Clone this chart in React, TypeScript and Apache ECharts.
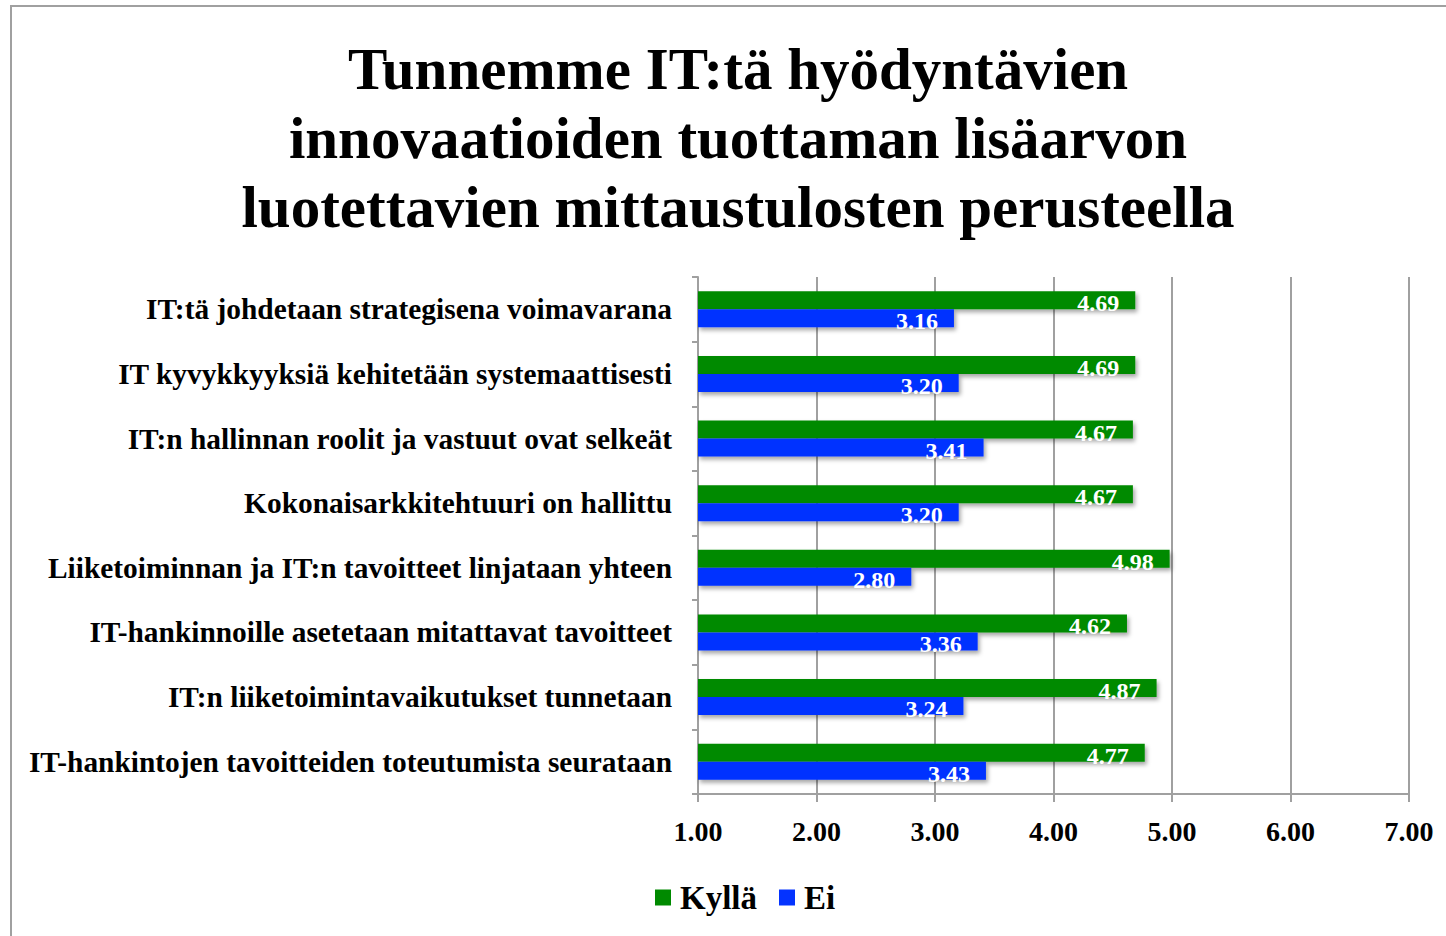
import React, { useEffect, useRef } from "react";
import * as echarts from "echarts";

const categories = [
  "IT:tä johdetaan strategisena voimavarana",
  "IT kyvykkyyksiä kehitetään systemaattisesti",
  "IT:n hallinnan roolit ja vastuut ovat selkeät",
  "Kokonaisarkkitehtuuri on hallittu",
  "Liiketoiminnan ja IT:n tavoitteet linjataan yhteen",
  "IT-hankinnoille asetetaan mitattavat tavoitteet",
  "IT:n liiketoimintavaikutukset tunnetaan",
  "IT-hankintojen tavoitteiden toteutumista seurataan",
];
const kylla = [4.69, 4.69, 4.67, 4.67, 4.98, 4.62, 4.87, 4.77];
const ei = [3.16, 3.2, 3.41, 3.2, 2.8, 3.36, 3.24, 3.43];
const titleLines = [
  "Tunnemme IT:tä hyödyntävien",
  "innovaatioiden tuottaman lisäarvon",
  "luotettavien mittaustulosten perusteella",
];

const FONT = "'Liberation Serif', 'Times New Roman', serif";

export default function App() {
  const ref = useRef<HTMLDivElement>(null);
  useEffect(() => {
    if (!ref.current) return;
    const chart = echarts.init(ref.current, undefined, { renderer: "svg" });
    const labelCfg = {
      show: true,
      position: "insideRight",
      offset: [-11, 3],
      color: "#ffffff",
      fontFamily: FONT,
      fontWeight: "bold",
      fontSize: 24,
      formatter: (p: any) => Number(p.value).toFixed(2),
    };
    const shadow = {
      shadowColor: "rgba(0,0,0,0.35)",
      shadowBlur: 4,
      shadowOffsetX: 2,
      shadowOffsetY: 3,
    };
    chart.setOption({
      animation: false,
      backgroundColor: "#ffffff",
      graphic: [
        {
          type: "rect",
          shape: { x: 11, y: 6, width: 1600, height: 1100 },
          style: { fill: "none", stroke: "#a0a0a0", lineWidth: 2 },
          silent: true,
        },
        ...titleLines.map((t, i) => ({
          type: "text",
          x: 738,
          y: 69 + i * 69,
          style: {
            text: t,
            fontFamily: FONT,
            fontWeight: "bold",
            fontSize: 59,
            fill: "#000000",
            textAlign: "center",
            textVerticalAlign: "middle",
          },
        })),
      ],
      legend: {
        data: ["Kyllä", "Ei"],
        top: 876,
        left: 650,
        itemWidth: 16,
        itemHeight: 16,
        itemGap: 22,
        icon: "rect",
        textStyle: {
          fontFamily: FONT,
          fontWeight: "bold",
          fontSize: 33,
          color: "#000",
          padding: [0, 0, 0, 4],
        },
      },
      grid: { left: 698, right: 37, top: 277, bottom: 142 },
      xAxis: {
        type: "value",
        min: 1,
        max: 7,
        interval: 1,
        axisLine: { show: true, lineStyle: { color: "#a0a0a0", width: 2 } },
        axisTick: { show: true, length: 8, lineStyle: { color: "#a0a0a0", width: 2 } },
        splitLine: { show: true, lineStyle: { color: "#a0a0a0", width: 2 } },
        axisLabel: {
          margin: 23,
          fontFamily: FONT,
          fontWeight: "bold",
          fontSize: 28,
          color: "#000",
          formatter: (v: number) => v.toFixed(2),
        },
      },
      yAxis: {
        type: "category",
        data: categories,
        inverse: true,
        axisLine: { show: true, lineStyle: { color: "#a0a0a0", width: 2 } },
        axisTick: { show: true, length: 6, lineStyle: { color: "#a0a0a0", width: 2 } },
        axisLabel: {
          margin: 26,
          fontFamily: FONT,
          fontWeight: "bold",
          fontSize: 29.4,
          color: "#000",
        },
      },
      series: [
        {
          name: "Kyllä",
          type: "bar",
          data: kylla,
          barWidth: 18,
          barGap: "0%",
          itemStyle: { color: "#008a00", ...shadow },
          label: labelCfg,
        },
        {
          name: "Ei",
          type: "bar",
          data: ei,
          barWidth: 18,
          barGap: "0%",
          itemStyle: { color: "#0433ff", ...shadow },
          label: labelCfg,
        },
      ],
    });
    return () => chart.dispose();
  }, []);
  return (
    <div
      ref={ref}
      style={{ position: "absolute", left: 0, top: 0, width: 1446, height: 936 }}
    />
  );
}
